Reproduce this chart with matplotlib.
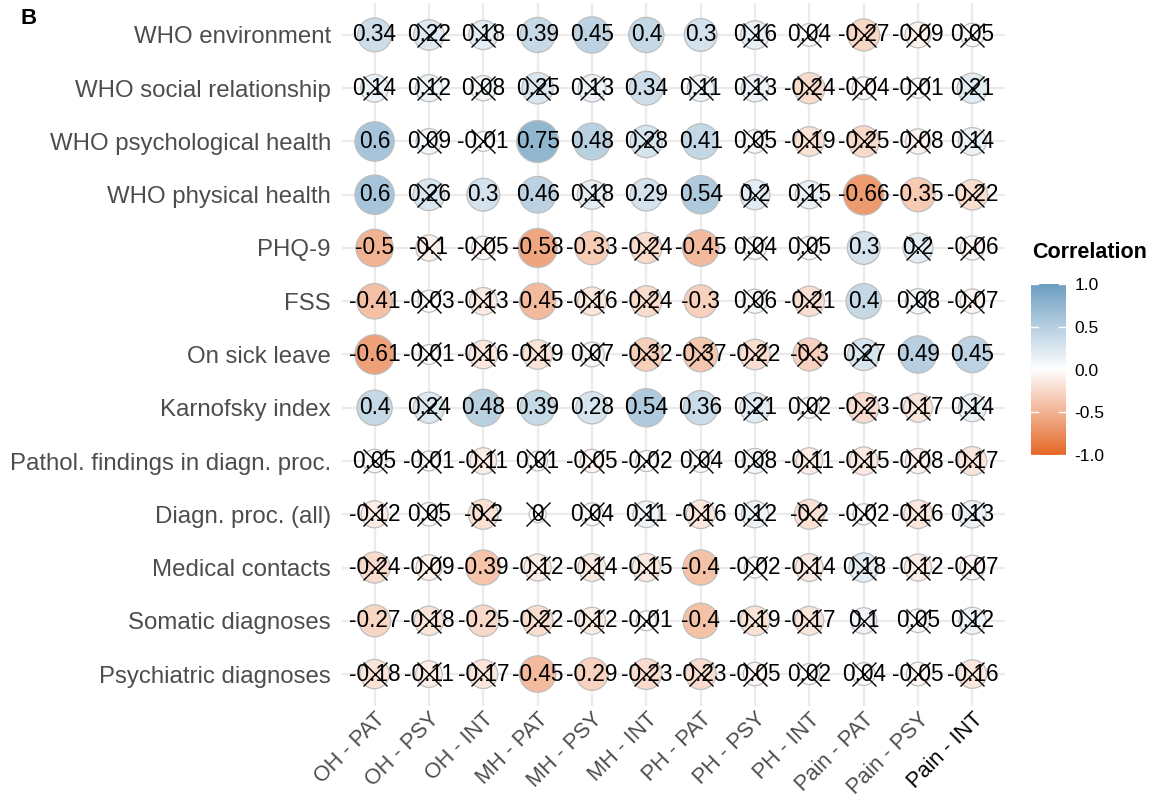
import matplotlib.pyplot as plt
import numpy as np
from matplotlib.colors import LinearSegmentedColormap

plt.rcParams['font.family'] = ['Liberation Sans', 'DejaVu Sans']

row_labels = ['WHO environment', 'WHO social relationship', 'WHO psychological health',
              'WHO physical health', 'PHQ-9', 'FSS', 'On sick leave', 'Karnofsky index',
              'Pathol. findings in diagn. proc.', 'Diagn. proc. (all)', 'Medical contacts',
              'Somatic diagnoses', 'Psychiatric diagnoses']
col_labels = ['OH - PAT', 'OH - PSY', 'OH - INT', 'MH - PAT', 'MH - PSY', 'MH - INT',
              'PH - PAT', 'PH - PSY', 'PH - INT', 'Pain - PAT', 'Pain - PSY', 'Pain - INT']

# correlation values, one list per row (top to bottom)
corr = [
    [0.34, 0.22, 0.18, 0.39, 0.45, 0.4, 0.3, 0.16, 0.04, -0.27, -0.09, 0.05],
    [0.14, 0.12, 0.08, 0.25, 0.13, 0.34, 0.11, 0.13, -0.24, -0.04, -0.01, 0.21],
    [0.6, 0.09, -0.01, 0.75, 0.48, 0.28, 0.41, 0.05, -0.19, -0.25, -0.08, 0.14],
    [0.6, 0.26, 0.3, 0.46, 0.18, 0.29, 0.54, 0.2, 0.15, -0.66, -0.35, -0.22],
    [-0.5, -0.1, -0.05, -0.58, -0.33, -0.24, -0.45, 0.04, 0.05, 0.3, 0.2, -0.06],
    [-0.41, -0.03, -0.13, -0.45, -0.16, -0.24, -0.3, 0.06, -0.21, 0.4, 0.08, -0.07],
    [-0.61, -0.01, -0.16, -0.19, 0.07, -0.32, -0.37, -0.22, -0.3, 0.27, 0.49, 0.45],
    [0.4, 0.24, 0.48, 0.39, 0.28, 0.54, 0.36, 0.21, 0.02, -0.23, -0.17, 0.14],
    [0.05, -0.01, -0.11, 0.01, -0.05, -0.02, 0.04, 0.08, -0.11, -0.15, -0.08, -0.17],
    [-0.12, 0.05, -0.2, 0, 0.04, 0.11, -0.16, 0.12, -0.2, -0.02, -0.16, 0.13],
    [-0.24, -0.09, -0.39, -0.12, -0.14, -0.15, -0.4, -0.02, -0.14, 0.18, -0.12, -0.07],
    [-0.27, -0.18, -0.25, -0.22, -0.12, -0.01, -0.4, -0.19, -0.17, 0.1, 0.05, 0.12],
    [-0.18, -0.11, -0.17, -0.45, -0.29, -0.23, -0.23, -0.05, 0.02, 0.04, -0.05, -0.16],
]

# 1 = not significant (crossed out)
insig = [
    [0, 1, 1, 0, 0, 0, 0, 1, 1, 1, 1, 1],
    [1, 1, 1, 1, 1, 0, 1, 1, 1, 1, 1, 1],
    [0, 1, 1, 0, 0, 1, 0, 1, 1, 1, 1, 1],
    [0, 1, 0, 0, 1, 0, 0, 1, 1, 0, 0, 1],
    [0, 1, 1, 0, 0, 1, 0, 1, 1, 0, 1, 1],
    [0, 1, 1, 0, 1, 1, 0, 1, 1, 0, 1, 1],
    [0, 1, 1, 1, 1, 1, 1, 1, 1, 1, 0, 0],
    [0, 1, 0, 0, 0, 0, 0, 1, 1, 1, 1, 1],
    [1, 1, 1, 1, 1, 1, 1, 1, 1, 1, 1, 1],
    [1, 1, 1, 1, 1, 1, 1, 1, 1, 1, 1, 1],
    [1, 1, 0, 1, 1, 1, 0, 1, 1, 1, 1, 1],
    [0, 1, 0, 1, 1, 1, 0, 1, 1, 1, 1, 1],
    [1, 1, 1, 0, 0, 1, 1, 1, 1, 1, 1, 1],
]

C = np.array(corr)
P = np.array(insig, dtype=bool)
nr, nc = C.shape

cmap = LinearSegmentedColormap.from_list('corr', ['#E46726', 'white', '#6D9EC1'])

W, H = 1153, 802
fig = plt.figure(figsize=(W / 100, H / 100), dpi=100)
ax = fig.add_axes([342 / W, 1 - 706 / H, (1005 - 342) / W, (706 - 3) / H])

xx, yy = np.meshgrid(np.arange(nc), np.arange(nr))
yy = nr - 1 - yy
absmax = np.abs(C).max()
diam_px = 17 + 25 * np.sqrt(np.abs(C) / absmax)
sizes = (diam_px * 0.72) ** 2

ax.scatter(xx.ravel(), yy.ravel(), s=sizes.ravel(), c=C.ravel(), cmap=cmap, vmin=-1, vmax=1,
           edgecolors='#BEBEBE', linewidths=0.9, zorder=3)

for i in range(nr):
    for j in range(nc):
        v = C[i, j]
        txt = f'{v:g}'
        ax.text(j, nr - 1 - i, txt, ha='center', va='center', fontsize=16.3, color='black', zorder=4)

ax.scatter(xx[P], yy[P], marker='x', s=(24 * 0.72) ** 2, c='black', linewidths=1.0, zorder=5)

ax.set_xlim(-0.6, nc - 0.4)
ax.set_ylim(-0.6, nr - 0.4)
ax.set_xticks(np.arange(nc))
ax.set_yticks(np.arange(nr))
ax.set_yticklabels(row_labels[::-1], fontsize=17.3, color='#4D4D4D')
ax.set_xticklabels(col_labels, fontsize=15.6, color='#4D4D4D', rotation=45, ha='right', va='top',
                   rotation_mode='anchor')
ax.get_xticklabels()[-1].set_color('black')
ax.tick_params(length=0, pad=8)
ax.tick_params(axis='x', pad=2)
ax.grid(True, color='#EBEBEB', linewidth=1.6, zorder=0)
ax.set_axisbelow(True)
for s in ax.spines.values():
    s.set_visible(False)

# colour bar legend
cax = fig.add_axes([1031 / W, 1 - 455 / H, 35 / W, (455 - 284) / H])
grad = np.linspace(-1, 1, 256).reshape(-1, 1)
cax.imshow(grad, cmap=cmap, aspect='auto', origin='lower', extent=[0, 1, -1, 1])
cax.set_xlim(0, 1)
cax.set_ylim(-1, 1)
for t in [-1, -0.5, 0, 0.5, 1]:
    cax.plot([0, 0.2], [t, t], color='white', lw=1)
    cax.plot([0.8, 1], [t, t], color='white', lw=1)
cax.set_xticks([])
cax.yaxis.tick_right()
cax.set_yticks([-1, -0.5, 0, 0.5, 1])
cax.set_yticklabels(['-1.0', '-0.5', '0.0', '0.5', '1.0'], fontsize=12.5, color='black')
cax.tick_params(length=0, pad=6)
for s in cax.spines.values():
    s.set_visible(False)

fig.text(1032 / W, 1 - 252 / H, 'Correlation', fontsize=15.5, fontweight='bold', ha='left', va='center')
fig.text(20 / W, 1 - 18 / H, 'B', fontsize=16, fontweight='bold', ha='left', va='center')

fig.savefig('out.png', dpi=100)
